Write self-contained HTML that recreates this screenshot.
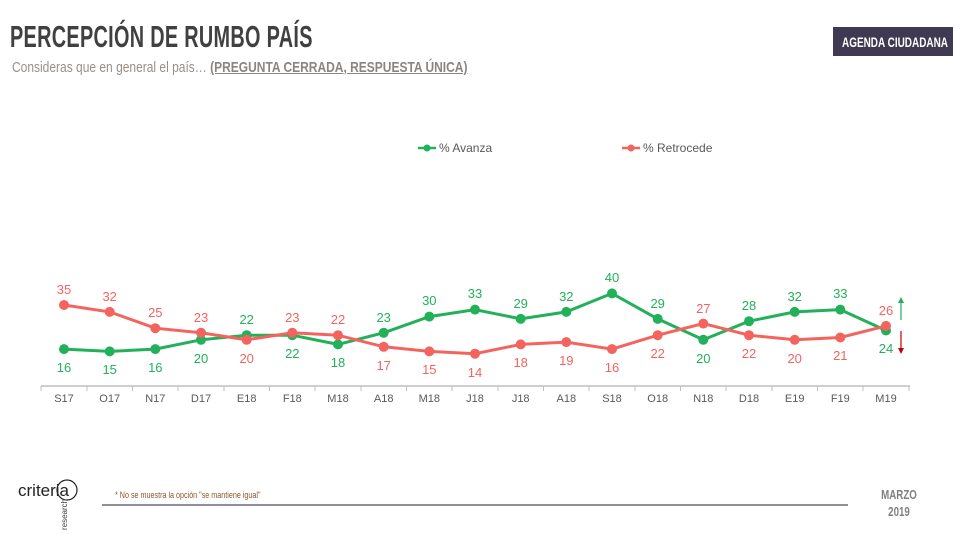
<!DOCTYPE html>
<html><head><meta charset="utf-8"><style>
body{margin:0;width:953px;height:535px;background:#fff;overflow:hidden;position:relative;font-family:"Liberation Sans",sans-serif}
.t{position:absolute;left:10px;top:19px;font-size:31px;font-weight:bold;color:#404040;transform:scaleX(0.64);transform-origin:left top;white-space:nowrap;letter-spacing:0.5px}
.s{position:absolute;left:12px;top:59px;font-size:15px;color:#9a8f86;transform:scaleX(0.8);transform-origin:left top;white-space:nowrap}
.s u{font-weight:bold;color:#8a8580}
</style></head><body>
<div class="t">PERCEPCIÓN DE RUMBO PAÍS</div>
<div class="s">Consideras que en general el país… <u>(PREGUNTA CERRADA, RESPUESTA ÚNICA)</u></div>
<svg width="953" height="535" style="position:absolute;left:0;top:0" font-family="Liberation Sans, sans-serif">
<rect x="833" y="27" width="120" height="29" fill="#3f3a52"/>
<text x="842" y="47" font-size="14" font-weight="bold" fill="#fff" textLength="106" lengthAdjust="spacingAndGlyphs">AGENDA CIUDADANA</text>
<g font-size="12" fill="#595959">
<line x1="418" y1="148" x2="436" y2="148" stroke="#22b15a" stroke-width="2.5"/><circle cx="427" cy="148" r="3.5" fill="#22b15a"/>
<text x="439" y="152">% Avanza</text>
<line x1="622" y1="148" x2="640" y2="148" stroke="#f4645f" stroke-width="2.5"/><circle cx="631" cy="148" r="3.5" fill="#f4645f"/>
<text x="643" y="152">% Retrocede</text>
</g>
<line x1="41" y1="386" x2="910" y2="386" stroke="#bfbfbf" stroke-width="1.5"/>
<g stroke="#bfbfbf" stroke-width="1">
<line x1="41" y1="386" x2="41" y2="391"/><line x1="87" y1="386" x2="87" y2="391"/><line x1="132.5" y1="386" x2="132.5" y2="391"/><line x1="178" y1="386" x2="178" y2="391"/><line x1="224" y1="386" x2="224" y2="391"/><line x1="269.5" y1="386" x2="269.5" y2="391"/><line x1="315" y1="386" x2="315" y2="391"/><line x1="361" y1="386" x2="361" y2="391"/><line x1="406.5" y1="386" x2="406.5" y2="391"/><line x1="452" y1="386" x2="452" y2="391"/><line x1="498" y1="386" x2="498" y2="391"/><line x1="543.5" y1="386" x2="543.5" y2="391"/><line x1="589" y1="386" x2="589" y2="391"/><line x1="635" y1="386" x2="635" y2="391"/><line x1="680.5" y1="386" x2="680.5" y2="391"/><line x1="726" y1="386" x2="726" y2="391"/><line x1="772" y1="386" x2="772" y2="391"/><line x1="817.5" y1="386" x2="817.5" y2="391"/><line x1="863" y1="386" x2="863" y2="391"/><line x1="909" y1="386" x2="909" y2="391"/>
</g>
<g font-size="11" fill="#595959" text-anchor="middle">
<text x="64" y="402">S17</text><text x="109.7" y="402">O17</text><text x="155.3" y="402">N17</text><text x="201" y="402">D17</text><text x="246.7" y="402">E18</text><text x="292.3" y="402">F18</text><text x="338" y="402">M18</text><text x="383.7" y="402">A18</text><text x="429.3" y="402">M18</text><text x="475" y="402">J18</text><text x="520.7" y="402">J18</text><text x="566.3" y="402">A18</text><text x="612" y="402">S18</text><text x="657.7" y="402">O18</text><text x="703.3" y="402">N18</text><text x="749" y="402">D18</text><text x="794.7" y="402">E19</text><text x="840.3" y="402">F19</text><text x="886" y="402">M19</text>
</g>
<polyline fill="none" stroke="#22b15a" stroke-width="3" points="64,349.1 109.7,351.4 155.3,349.1 201,339.8 246.7,335.2 292.3,335.2 338,344.4 383.7,332.8 429.3,316.6 475,309.6 520.7,318.9 566.3,311.9 612,293.4 657.7,318.9 703.3,339.8 749,321.2 794.7,311.9 840.3,309.6 886,330.5"/>
<g fill="#22b15a">
<circle cx="64" cy="349.1" r="5"/><circle cx="109.7" cy="351.4" r="5"/><circle cx="155.3" cy="349.1" r="5"/><circle cx="201" cy="339.8" r="5"/><circle cx="246.7" cy="335.2" r="5"/><circle cx="292.3" cy="335.2" r="5"/><circle cx="338" cy="344.4" r="5"/><circle cx="383.7" cy="332.8" r="5"/><circle cx="429.3" cy="316.6" r="5"/><circle cx="475" cy="309.6" r="5"/><circle cx="520.7" cy="318.9" r="5"/><circle cx="566.3" cy="311.9" r="5"/><circle cx="612" cy="293.4" r="5"/><circle cx="657.7" cy="318.9" r="5"/><circle cx="703.3" cy="339.8" r="5"/><circle cx="749" cy="321.2" r="5"/><circle cx="794.7" cy="311.9" r="5"/><circle cx="840.3" cy="309.6" r="5"/><circle cx="886" cy="330.5" r="5"/>
</g>
<polyline fill="none" stroke="#f4645f" stroke-width="3" points="64,305 109.7,311.9 155.3,328.2 201,332.8 246.7,339.8 292.3,332.8 338,335.2 383.7,346.8 429.3,351.4 475,353.7 520.7,344.4 566.3,342.1 612,349.1 657.7,335.2 703.3,323.6 749,335.2 794.7,339.8 840.3,337.5 886,325.9"/>
<g fill="#f4645f">
<circle cx="64" cy="305" r="5"/><circle cx="109.7" cy="311.9" r="5"/><circle cx="155.3" cy="328.2" r="5"/><circle cx="201" cy="332.8" r="5"/><circle cx="246.7" cy="339.8" r="5"/><circle cx="292.3" cy="332.8" r="5"/><circle cx="338" cy="335.2" r="5"/><circle cx="383.7" cy="346.8" r="5"/><circle cx="429.3" cy="351.4" r="5"/><circle cx="475" cy="353.7" r="5"/><circle cx="520.7" cy="344.4" r="5"/><circle cx="566.3" cy="342.1" r="5"/><circle cx="612" cy="349.1" r="5"/><circle cx="657.7" cy="335.2" r="5"/><circle cx="703.3" cy="323.6" r="5"/><circle cx="749" cy="335.2" r="5"/><circle cx="794.7" cy="339.8" r="5"/><circle cx="840.3" cy="337.5" r="5"/><circle cx="886" cy="325.9" r="5"/>
</g>
<g font-size="13" fill="#22b15a" text-anchor="middle">
<text x="64" y="372">16</text><text x="109.7" y="374">15</text><text x="155.3" y="372">16</text><text x="201" y="363">20</text><text x="246.7" y="324">22</text><text x="292.3" y="358">22</text><text x="338" y="367">18</text><text x="383.7" y="322">23</text><text x="429.3" y="305">30</text><text x="475" y="298">33</text><text x="520.7" y="308">29</text><text x="566.3" y="301">32</text><text x="612" y="282">40</text><text x="657.7" y="308">29</text><text x="703.3" y="363">20</text><text x="749" y="310">28</text><text x="794.7" y="301">32</text><text x="840.3" y="298">33</text><text x="886" y="353">24</text>
</g>
<g font-size="13" fill="#f4645f" text-anchor="middle">
<text x="64" y="294">35</text><text x="109.7" y="301">32</text><text x="155.3" y="317">25</text><text x="201" y="322">23</text><text x="246.7" y="363">20</text><text x="292.3" y="322">23</text><text x="338" y="324">22</text><text x="383.7" y="370">17</text><text x="429.3" y="374">15</text><text x="475" y="377">14</text><text x="520.7" y="367">18</text><text x="566.3" y="365">19</text><text x="612" y="372">16</text><text x="657.7" y="358">22</text><text x="703.3" y="313">27</text><text x="749" y="358">22</text><text x="794.7" y="363">20</text><text x="840.3" y="360">21</text><text x="886" y="315">26</text>
</g>
<line x1="901" y1="320" x2="901" y2="302" stroke="#22b15a" stroke-width="1.2"/><polygon points="898,303 904,303 901,297" fill="#22b15a"/>
<line x1="901" y1="331" x2="901" y2="349" stroke="#c00000" stroke-width="1.2"/><polygon points="898,348 904,348 901,354" fill="#c00000"/>
<line x1="102" y1="505" x2="848" y2="505" stroke="#6b6880" stroke-width="1.5"/>
<text x="115" y="498" font-size="9" fill="#8a5a2a" transform="translate(115 0) scale(0.8 1) translate(-115 0)">* No se muestra la opción "se mantiene igual"</text>
<g transform="translate(899 0) scale(0.75 1)">
<text x="0" y="499" font-size="13" font-weight="bold" fill="#808080" text-anchor="middle">MARZO</text>
<text x="0" y="516" font-size="13" font-weight="bold" fill="#808080" text-anchor="middle">2019</text>
</g>
<text x="18" y="496" font-size="17" fill="#222">criteria</text>
<circle cx="67" cy="490" r="10" fill="none" stroke="#222" stroke-width="1.2"/>
<text x="0" y="0" font-size="8" fill="#444" transform="translate(67 530) rotate(-90)">research</text>
</svg>
</body></html>
